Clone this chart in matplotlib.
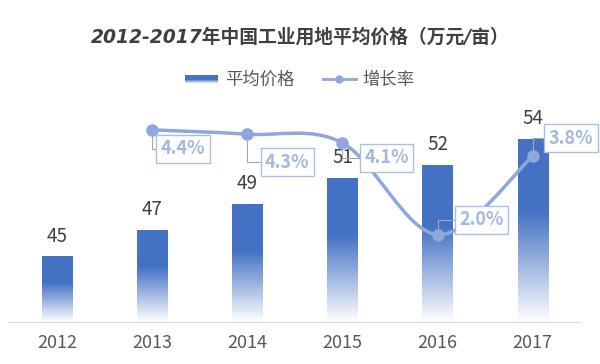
import numpy as np
import matplotlib
matplotlib.use("Agg")
import matplotlib.pyplot as plt
from matplotlib.colors import LinearSegmentedColormap
from matplotlib.path import Path
from matplotlib.patches import PathPatch, Rectangle
from matplotlib.lines import Line2D
from matplotlib.legend_handler import HandlerBase

plt.rcParams['font.family'] = ['Noto Sans CJK SC', 'DejaVu Sans']

# data
years = ['2012', '2013', '2014', '2015', '2016', '2017']
prices = [45, 47, 49, 51, 52, 54]
rate_years = [1, 2, 3, 4, 5]          # index into years
rates = [0.044, 0.043, 0.041, 0.020, 0.038]
rate_offsets = [(31, -19), (40, -28), (44, -15), (44, 15), (38, 18)]

BLUE = '#4472C4'
LINE = '#8FA7DB'
BOX = '#A9BEE8'
TXT = '#A3B7E2'

# top 40% solid, then fade to white
cmap = LinearSegmentedColormap.from_list('fade', [(0, '#FFFFFF'), (0.6, BLUE), (1, BLUE)])


class GradientHandler(HandlerBase):
    def create_artists(self, legend, orig, xd, yd, w, h, fs, trans):
        arts = []
        n = 8
        for i in range(n):
            t = 1 - i / n
            r = Rectangle((xd, yd + h * (n - 1 - i) / n * 0.6 + h * 0.2), w, h * 0.6 / n,
                          fc=cmap(0.6 + 0.4 * t if i < 3 else t * 1.2), ec='none', transform=trans)
            arts.append(r)
        return arts


fig = plt.figure(figsize=(6, 3.64), dpi=100)
ax = fig.add_axes([9.4 / 600, 42 / 364, 571 / 600, 262 / 364])

x = np.arange(len(years))
w = 0.32
bars = ax.bar(x, prices, width=w, color='none', edgecolor='none')
grad = np.linspace(1, 0, 256).reshape(-1, 1)
for b, v in zip(bars, prices):
    bx = b.get_x()
    im = ax.imshow(grad, cmap=cmap, vmin=0, vmax=1, aspect='auto',
                   extent=(bx, bx + w, 40, v), zorder=2)
    im.set_clip_path(b)
    ax.text(b.get_x() + w / 2, v + 0.75, str(v), ha='center', va='bottom',
            fontsize=13.5, color='#404040')

ax.set_xlim(-0.5, 5.5)
ax.set_ylim(40, 60)
ax.set_xticks(x)
ax.set_xticklabels(years, fontsize=13, color='#595959')
ax.tick_params(length=0, pad=9)
ax.set_yticks([])
for s in ['left', 'right', 'top']:
    ax.spines[s].set_visible(False)
ax.spines['bottom'].set_color('#D9D9D9')

ax2 = ax.twinx()
ax2.set_ylim(0, 0.06)
ax2.set_yticks([])
for s in ax2.spines.values():
    s.set_visible(False)

# smoothed line through the rate points (Catmull-Rom as bezier)
pts = np.column_stack([rate_years, rates]).astype(float)
ext = np.vstack([pts[0], pts, pts[-1]])
verts = [tuple(pts[0])]
codes = [Path.MOVETO]
for i in range(len(pts) - 1):
    p0, p1, p2, p3 = ext[i], ext[i + 1], ext[i + 2], ext[i + 3]
    c1 = p1 + (p2 - p0) / 6
    c2 = p2 - (p3 - p1) / 6
    verts += [tuple(c1), tuple(c2), tuple(p2)]
    codes += [Path.CURVE4] * 3
ax2.add_patch(PathPatch(Path(verts, codes), fc='none', ec=LINE, lw=2.5, zorder=3))
ax2.plot(rate_years, rates, 'o', color=LINE, ms=8, zorder=4)

for xi, r, off in zip(rate_years, rates, rate_offsets):
    ax2.annotate(f'{r * 100:.1f}%', xy=(xi, r), xytext=off, textcoords='offset pixels',
                 ha='center', va='center', fontsize=13, fontweight='bold', color=TXT,
                 bbox=dict(boxstyle='square,pad=0.25', fc='white', ec=BOX, lw=1),
                 arrowprops=dict(arrowstyle='-', color='#A6A6A6', lw=0.8,
                                 connectionstyle='angle,angleA=0,angleB=90,rad=0',
                                 shrinkA=0, shrinkB=4),
                 zorder=5)

fig.text(0.5, 1 - 37 / 364, '2012-2017年中国工业用地平均价格（万元/亩）', ha='center', va='center',
         fontsize=13.5, fontweight='bold', style='italic', color='#404040',
         family=['DejaVu Sans', 'Noto Sans CJK SC'])

h1 = Rectangle((0, 0), 1, 1)
h2 = Line2D([], [], color=LINE, lw=2, marker='o', ms=5)
fig.legend([h1, h2], ['平均价格', '增长率'], loc='center', bbox_to_anchor=(0.5, 1 - 80 / 364),
           ncol=2, frameon=False, fontsize=12.5, labelcolor='#595959',
           handler_map={Rectangle: GradientHandler()}, handlelength=1.9,
           handletextpad=0.4, columnspacing=1.6)

fig.savefig('out.png', dpi=100)
